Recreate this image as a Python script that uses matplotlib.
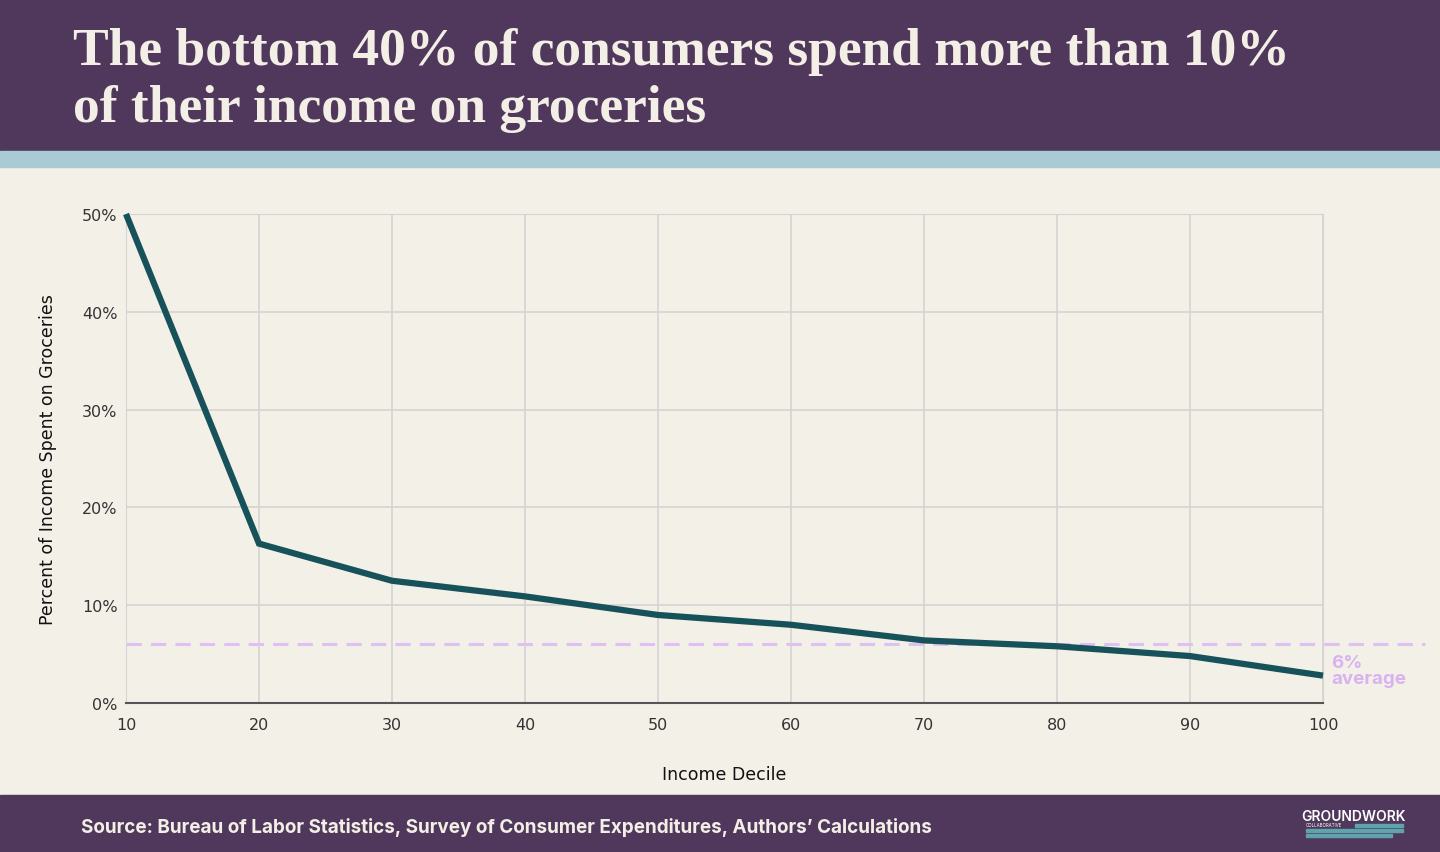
import matplotlib.pyplot as plt
from matplotlib.patches import Rectangle

# income decile vs share of income spent on groceries (%)
deciles = [10, 20, 30, 40, 50, 60, 70, 80, 90, 100]
grocery_share = [50.0, 16.3, 12.5, 10.9, 9.0, 8.0, 6.4, 5.8, 4.8, 2.8]
average_share = 6
y_ticks = [0, 10, 20, 30, 40, 50]

purple = '#4f385b'
band = '#a8cbd6'
cream = '#f3f0e8'
teal = '#17525a'
lavender = '#dec0f2'

fig = plt.figure(figsize=(14.4, 8.53), dpi=100)
fig.patch.set_facecolor(cream)

# header / footer blocks
fig.add_artist(Rectangle((0, 1 - 152 / 853), 1, 152 / 853, transform=fig.transFigure,
                         color=purple, zorder=0))
fig.add_artist(Rectangle((0, 1 - 168 / 853), 1, 16 / 853, transform=fig.transFigure,
                         color=band, zorder=0))
fig.add_artist(Rectangle((0, 0), 1, 57 / 853, transform=fig.transFigure,
                         color=purple, zorder=0))

title_lines = ['The bottom 40% of consumers spend more than 10%', 'of their income on groceries']
for i, line in enumerate(title_lines):
    fig.text(73 / 1440, 1 - (65 + 57 * i) / 853, line,
             family='Liberation Serif', weight='bold', fontsize=38.5, color='#f3efe6',
             va='baseline', ha='left')

fig.text(81 / 1440, 1 - 828 / 853,
         'Source: Bureau of Labor Statistics, Survey of Consumer Expenditures, Authors\u2019 Calculations',
         family='Inter', weight='bold', fontsize=13.6, color='#f3efe6', va='center', ha='left')

# logo
fig.text(1354 / 1440, 1 - 817 / 853, 'GROUNDWORK', family='Inter', weight='semibold',
         fontsize=10, color='white', ha='center', va='center')
fig.text(1306 / 1440, 1 - 826 / 853, 'COLLABORATIVE', family='Inter', fontsize=3.2,
         color='white', ha='left', va='center')
for x0, x1, y in [(1355, 1403, 826), (1306, 1403, 831), (1306, 1392, 836)]:
    fig.add_artist(Rectangle((x0 / 1440, 1 - (y + 1.5) / 853), (x1 - x0) / 1440, 3 / 853,
                             transform=fig.transFigure, color='#5fa3ad', zorder=1))

ax = fig.add_axes([126 / 1440, 149 / 853, 1197 / 1440, 489 / 853])
ax.set_facecolor(cream)
ax.plot(deciles, grocery_share, color=teal, lw=4.5, solid_capstyle='butt',
        solid_joinstyle='miter', zorder=3, clip_on=False)
ax.axhline(average_share, xmin=0, xmax=1.085, color=lavender, lw=2.2, dashes=(5, 3),
           zorder=2, clip_on=False)
ax.text(100.6, average_share - 2.7, '6%\naverage', color='#d9b2f0', fontsize=13.5,
        weight='bold', family='Inter', va='center', ha='left', linespacing=0.95)

ax.set_xlim(10, 100)
ax.set_ylim(0, 50)
ax.set_xticks(deciles)
ax.set_yticks(y_ticks)
ax.set_yticklabels([f'{t}%' for t in y_ticks])
ax.grid(True, color='#d4d4d4', lw=1.2)
ax.set_axisbelow(True)
ax.tick_params(axis='x', length=0, labelsize=11.5, labelcolor='#333333', pad=10)
ax.tick_params(axis='y', length=0, labelsize=11.5, labelcolor='#333333', pad=6)
for s in ['top', 'right', 'left']:
    ax.spines[s].set_color('#d4d4d4')
ax.spines['bottom'].set_color('#555555')
ax.spines['bottom'].set_linewidth(1.5)
ax.set_xlabel('Income Decile', fontsize=12.5, color='#111111', labelpad=24)
ax.set_ylabel('Percent of Income Spent on Groceries', fontsize=12.5, color='#111111', labelpad=18)

fig.savefig('out.png', dpi=100, facecolor=fig.get_facecolor())
